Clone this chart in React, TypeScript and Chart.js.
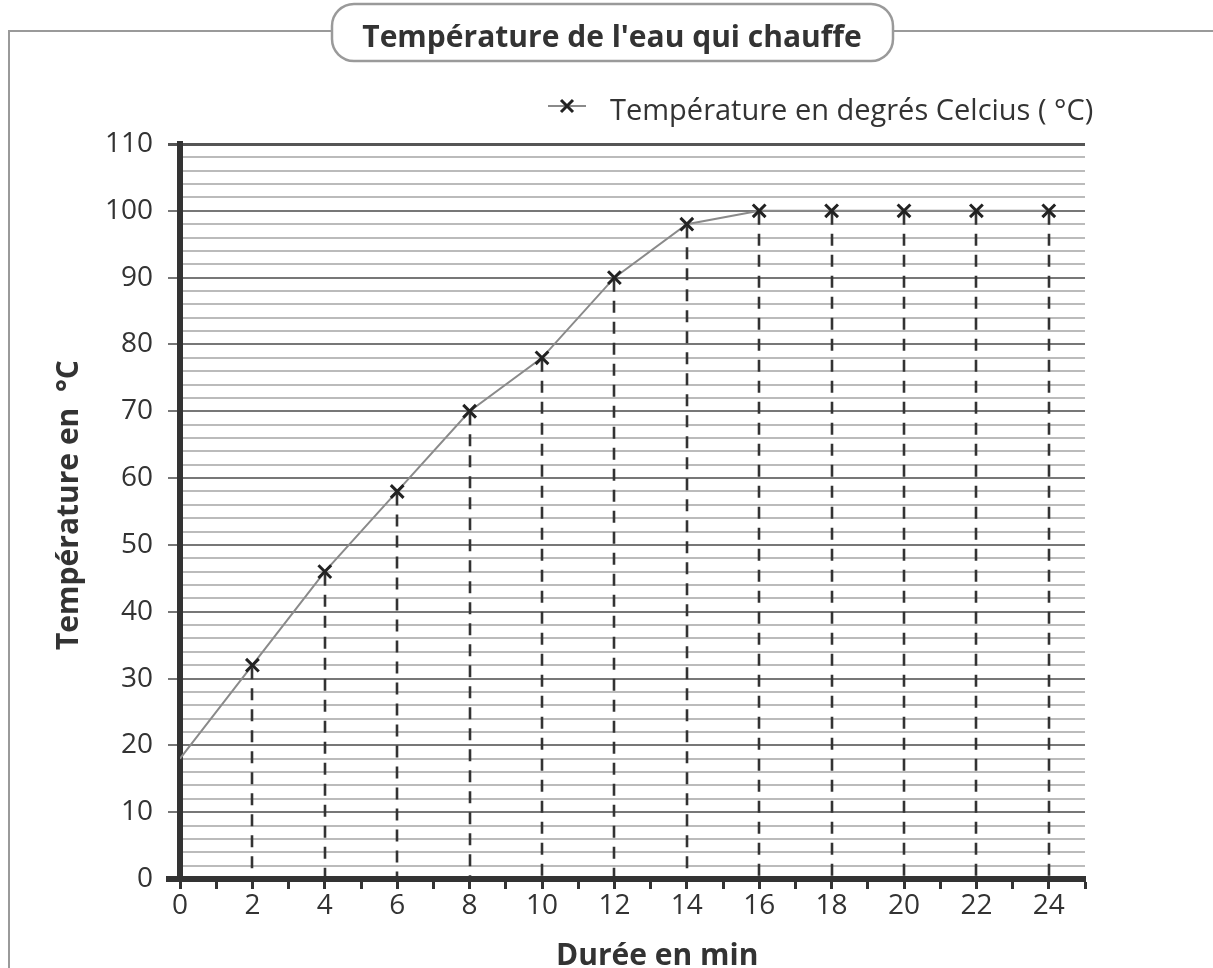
import React, { useEffect, useRef } from 'react';
import { Chart, registerables } from 'chart.js';

Chart.register(...registerables);

// ---- data ----
const durations = [0, 2, 4, 6, 8, 10, 12, 14, 16, 18, 20, 22, 24];
const temperatures = [18, 32, 46, 58, 70, 78, 90, 98, 100, 100, 100, 100, 100];

const chartTitle = "Température de l'eau qui chauffe";
const seriesLabel = 'Température en degrés Celcius ( °C)';
const xAxisTitle = 'Durée en min';
const yAxisTitle = 'Température en  °C';

const X_MIN = 0;
const X_MAX = 25;
const X_STEP = 1;
const X_LABEL_EVERY = 2;
const Y_MIN = 0;
const Y_MAX = 110;
const Y_STEP = 2;
const Y_LABEL_EVERY = 10;

const W = 1213;
const H = 968;
const FONT = '"Open Sans", sans-serif';
const TEXT = '#333333';
const LINE_GREY = '#8a8a8a';
const FRAME_GREY = '#9a9a9a';

const decorPlugin = {
  id: 'decor',
  beforeDraw(chart: any) {
    const ctx = chart.ctx as CanvasRenderingContext2D;
    ctx.save();
    ctx.fillStyle = '#ffffff';
    ctx.fillRect(0, 0, W, H);
    // outer frame
    ctx.strokeStyle = FRAME_GREY;
    ctx.lineWidth = 2;
    ctx.beginPath();
    ctx.moveTo(9, H);
    ctx.lineTo(9, 31);
    ctx.lineTo(334, 31);
    ctx.moveTo(891, 31);
    ctx.lineTo(W, 31);
    ctx.stroke();
    // title box
    const bx = 332, by = 4, bw = 561, bh = 57, r = 22;
    ctx.beginPath();
    ctx.moveTo(bx + r, by);
    ctx.lineTo(bx + bw - r, by);
    ctx.arcTo(bx + bw, by, bx + bw, by + r, r);
    ctx.lineTo(bx + bw, by + bh - r);
    ctx.arcTo(bx + bw, by + bh, bx + bw - r, by + bh, r);
    ctx.lineTo(bx + r, by + bh);
    ctx.arcTo(bx, by + bh, bx, by + bh - r, r);
    ctx.lineTo(bx, by + r);
    ctx.arcTo(bx, by, bx + r, by, r);
    ctx.closePath();
    ctx.fillStyle = '#ffffff';
    ctx.fill();
    ctx.lineWidth = 2.5;
    ctx.stroke();
    ctx.fillStyle = TEXT;
    ctx.font = `bold 30px ${FONT}`;
    ctx.textAlign = 'center';
    ctx.textBaseline = 'alphabetic';
    ctx.fillText(chartTitle, 612, 47);
    ctx.restore();
  },
  beforeDatasetsDraw(chart: any) {
    const ctx = chart.ctx as CanvasRenderingContext2D;
    const xs = chart.scales.x;
    const ys = chart.scales.y;
    ctx.save();
    ctx.strokeStyle = '#333333';
    ctx.lineWidth = 2.6;
    ctx.setLineDash([12, 9]);
    const y0 = ys.getPixelForValue(Y_MIN);
    for (let i = 1; i < durations.length; i++) {
      const px = Math.round(xs.getPixelForValue(durations[i]));
      const py = ys.getPixelForValue(temperatures[i]);
      ctx.beginPath();
      ctx.moveTo(px, py + 2);
      ctx.lineTo(px, y0);
      ctx.stroke();
    }
    ctx.restore();
  },
  afterDraw(chart: any) {
    const ctx = chart.ctx as CanvasRenderingContext2D;
    const area = chart.chartArea;
    ctx.save();
    // x axis extension to the left of the y axis
    ctx.fillStyle = '#333333';
    ctx.fillRect(166, area.bottom - 3, area.left - 166, 6);
    // legend
    ctx.strokeStyle = LINE_GREY;
    ctx.lineWidth = 2;
    ctx.beginPath();
    ctx.moveTo(548, 106);
    ctx.lineTo(586, 106);
    ctx.stroke();
    ctx.strokeStyle = '#222222';
    ctx.lineWidth = 3;
    ctx.beginPath();
    ctx.moveTo(561, 100);
    ctx.lineTo(573, 112);
    ctx.moveTo(573, 100);
    ctx.lineTo(561, 112);
    ctx.stroke();
    ctx.fillStyle = TEXT;
    ctx.font = `29px ${FONT}`;
    ctx.textAlign = 'left';
    ctx.textBaseline = 'alphabetic';
    ctx.fillText(seriesLabel, 610, 120);
    // axis titles
    ctx.font = `bold 30px ${FONT}`;
    ctx.fillText(xAxisTitle, 556, 965);
    ctx.translate(78, 650);
    ctx.rotate(-Math.PI / 2);
    ctx.fillText(yAxisTitle, 0, 0);
    ctx.restore();
  },
};

export default function App() {
  const canvasRef = useRef<HTMLCanvasElement | null>(null);

  useEffect(() => {
    if (!canvasRef.current) return;
    const chart = new Chart(canvasRef.current, {
      type: 'line',
      data: {
        datasets: [
          {
            label: seriesLabel,
            data: durations.map((d, i) => ({ x: d, y: temperatures[i] })),
            borderColor: LINE_GREY,
            borderWidth: 2,
            tension: 0,
            fill: false,
            pointStyle: 'crossRot',
            pointRadius: (c: any) => (c.dataIndex === 0 ? 0 : 9),
            pointHoverRadius: (c: any) => (c.dataIndex === 0 ? 0 : 9),
            pointBorderColor: '#222222',
            pointBackgroundColor: '#222222',
            pointBorderWidth: 3,
          },
        ],
      },
      options: {
        responsive: false,
        animation: false,
        devicePixelRatio: 1,
        layout: { padding: { left: 0, right: 128, top: 144, bottom: 0 } },
        plugins: {
          legend: { display: false },
          tooltip: { enabled: false },
          title: { display: false },
        },
        scales: {
          x: {
            type: 'linear',
            min: X_MIN,
            max: X_MAX,
            afterFit: (s: any) => {
              s.height = H - 879;
            },
            ticks: {
              stepSize: X_STEP,
              autoSkip: false,
              maxRotation: 0,
              padding: 0,
              color: TEXT,
              font: { family: FONT, size: 28 },
              callback: (v: any) => (Number(v) % X_LABEL_EVERY === 0 ? String(v) : ''),
            },
            grid: {
              drawOnChartArea: false,
              drawTicks: true,
              tickLength: 10,
              tickColor: '#333333',
              tickWidth: 3,
            },
            border: { display: true, color: '#333333', width: 6 },
          },
          y: {
            type: 'linear',
            min: Y_MIN,
            max: Y_MAX,
            afterFit: (s: any) => {
              s.width = 180;
            },
            ticks: {
              stepSize: Y_STEP,
              autoSkip: false,
              padding: 15,
              color: TEXT,
              font: { family: FONT, size: 28 },
              callback: (v: any) => (Number(v) % Y_LABEL_EVERY === 0 ? String(v) : ''),
            },
            grid: {
              drawOnChartArea: true,
              drawTicks: true,
              tickLength: 12,
              color: (c: any) => {
                const v = c.tick ? c.tick.value : 0;
                if (v === Y_MAX) return '#555555';
                return v % Y_LABEL_EVERY === 0 ? '#777777' : '#bbbbbb';
              },
              lineWidth: (c: any) => {
                const v = c.tick ? c.tick.value : 0;
                return v === Y_MAX ? 3 : 2;
              },
              tickColor: (c: any) => {
                const v = c.tick ? c.tick.value : 0;
                if (v === Y_MAX) return '#555555';
                return v % Y_LABEL_EVERY === 0 ? '#777777' : 'rgba(0,0,0,0)';
              },
              tickWidth: (c: any) => {
                const v = c.tick ? c.tick.value : 0;
                return v === Y_MAX ? 3 : 2;
              },
            },
            border: { display: true, color: '#333333', width: 6 },
          },
        },
      },
      plugins: [decorPlugin],
    } as any);
    return () => chart.destroy();
  }, []);

  return (
    <div style={{ position: 'absolute', left: 0, top: 0, width: W, height: H }}>
      <canvas ref={canvasRef} width={W} height={H} style={{ display: 'block', width: W, height: H }} />
    </div>
  );
}
